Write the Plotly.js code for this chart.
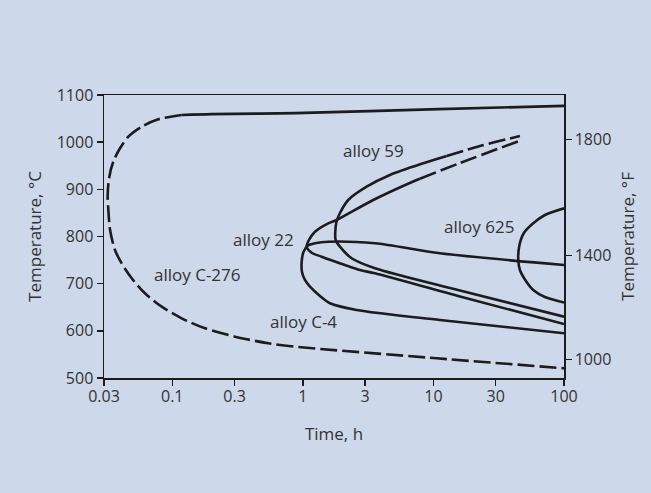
<!DOCTYPE html>
<html>
<head>
<meta charset="utf-8">
<script src="https://cdn.plot.ly/plotly-3.0.1.min.js"></script>
<style>
html,body{margin:0;padding:0;background:#cdd8ea;}
#chart{width:651px;height:493px;}
</style>
</head>
<body>
<div id="chart"></div>
<script>
// ---- data (time in h, temperature in °C) ----
const c276SolidTime = [0.118, 0.2, 0.87, 11, 100];
const c276SolidTemp = [1057.6, 1059.5, 1061.5, 1070, 1077];
const c276DashTime = [0.118, 0.0782, 0.0583, 0.0461, 0.0398, 0.0353, 0.0328, 0.0320, 0.0324, 0.0334, 0.0364, 0.0410, 0.0489, 0.0618, 0.0830, 0.118, 0.178, 0.302, 0.543, 0.870, 10.58, 100];
const c276DashTemp = [1057.6, 1048.5, 1032.8, 1011.6, 987, 958.6, 923.4, 888, 856, 813.8, 771.4, 743, 711.4, 679.6, 651.2, 626.6, 605.4, 587.6, 573.6, 566.4, 541.8, 520.6];

const a22SolidTime = [7.88, 7.44, 3.459, 1.815, 1.566, 1.238, 1.114, 1.0695, 1.168, 1.393, 2.100, 2.737, 3.567, 15.96, 100];
const a22SolidTemp = [922.6, 919.8, 877.4, 835, 828, 810.2, 792.6, 778.4, 765.7, 757.2, 739.6, 729, 722, 672.8, 614.5];
const a22DashTime = [7.88, 15.96, 45.96];
const a22DashTemp = [922.6, 955.8, 1003.1];

const a59SolidTime = [12.63, 8.36, 4.646, 3.080, 2.227, 1.924, 1.808, 1.771, 1.783, 1.924, 2.364, 3.567, 15.96, 100];
const a59SolidTemp = [970.7, 955.2, 930.4, 905.6, 877.4, 849.8, 830.8, 810.2, 792.6, 778.4, 753.8, 732.6, 685.5, 630];
const a59DashTime = [12.63, 22.7, 45.96];
const a59DashTemp = [970.7, 991.9, 1013.1];

const c4Time = [100, 11.22, 3.567, 1.566, 1.238, 1.094, 1.011, 0.9795, 0.9847, 1.038, 1.134, 1.352, 1.613, 2.582, 11.22, 100];
const c4Temp = [739.6, 764.4, 785.6, 789, 785.6, 781, 767.2, 746, 724.8, 707.8, 693.6, 673.9, 658.4, 644.2, 623, 594.8];

const a625Time = [100, 71.4, 58.1, 49.3, 45.6, 44.6, 45.96, 51.1, 58.1, 71.4, 100];
const a625Temp = [859.8, 845.6, 828, 807.4, 782, 753.8, 729, 705.7, 686.6, 671.8, 660.1];

const xTickVals = [0.03, 0.1, 0.3, 1, 3, 10, 30, 100];
const xTickText = ['0.03', '0.1', '0.3', '1', '3', '10', '30', '100'];
const yTickVals = [500, 600, 700, 800, 900, 1000, 1100];
const fTickPos = [539.7, 759.3, 1006];   // where the °F ticks sit on the °C scale in the picture
const fTickText = ['1000', '1400', '1800'];

const labels = ['alloy C-276', 'alloy 22', 'alloy C-4', 'alloy 59', 'alloy 625'];
const labelTime = [0.156, 0.498, 1.007, 3.459, 22.4];
const labelTemp = [720.5, 793.7, 619.4, 983.4, 820.8];

// ---- styling ----
const ink = '#1c1c1c';
const txt = '#333333';
const bg = '#cdd8ea';
const FONT = 'Open Sans, Liberation Sans, Arial, sans-serif';
const solid = {color: ink, width: 2.6, shape: 'spline', smoothing: 0.8};
const dashed = {color: ink, width: 2.6, shape: 'spline', smoothing: 0.8, dash: '17px,5px'};

function tr(x, y, line) {
  return {x: x, y: y, type: 'scatter', mode: 'lines', line: line, hoverinfo: 'skip', showlegend: false, xaxis: 'x', yaxis: 'y'};
}

const traces = [
  tr(c276SolidTime, c276SolidTemp, solid),
  tr(c276DashTime, c276DashTemp, dashed),
  tr(a22SolidTime, a22SolidTemp, solid),
  tr(a22DashTime, a22DashTemp, dashed),
  tr(a59SolidTime, a59SolidTemp, solid),
  tr(a59DashTime, a59DashTemp, dashed),
  tr(c4Time, c4Temp, solid),
  tr(a625Time, a625Temp, solid),
  // invisible trace to activate the right-hand °F axis
  {x: [0.03], y: [500], type: 'scatter', mode: 'markers', marker: {opacity: 0}, hoverinfo: 'skip', showlegend: false, xaxis: 'x', yaxis: 'y2'}
];

const annotations = labels.map((t, i) => ({
  x: Math.log10(labelTime[i]), y: labelTemp[i], xref: 'x', yref: 'y',
  text: t, showarrow: false, font: {family: FONT, size: 17, color: txt},
  xanchor: 'center', yanchor: 'middle'
}));

const axisCommon = {
  showgrid: false, zeroline: false, showline: true, linecolor: ink, linewidth: 1.5,
  ticks: 'outside', ticklen: 6, tickwidth: 1.5, tickcolor: ink,
  tickfont: {family: FONT, size: 16, color: txt}
};

const layout = {
  width: 651, height: 493,
  paper_bgcolor: bg, plot_bgcolor: bg,
  margin: {l: 104, r: 87, t: 95, b: 115},
  showlegend: false,
  xaxis: Object.assign({}, axisCommon, {
    type: 'log', range: [Math.log10(0.03), Math.log10(100)],
    tickvals: xTickVals, ticktext: xTickText, mirror: true,
    ticklabelstandoff: -3,
    title: {text: 'Time, h', font: {family: FONT, size: 17, color: txt}, standoff: 22}
  }),
  yaxis: Object.assign({}, axisCommon, {
    range: [500, 1100], tickvals: yTickVals, mirror: true,
    title: {text: 'Temperature, °C', font: {family: FONT, size: 17, color: txt}, standoff: 11}
  }),
  yaxis2: Object.assign({}, axisCommon, {
    overlaying: 'y', side: 'right', range: [500, 1100],
    tickvals: fTickPos, ticktext: fTickText,
    title: {text: 'Temperature, °F', font: {family: FONT, size: 17, color: txt}, standoff: 12}
  }),
  annotations: annotations
};

Plotly.newPlot('chart', traces, layout, {staticPlot: true, displayModeBar: false});
</script>
</body>
</html>
